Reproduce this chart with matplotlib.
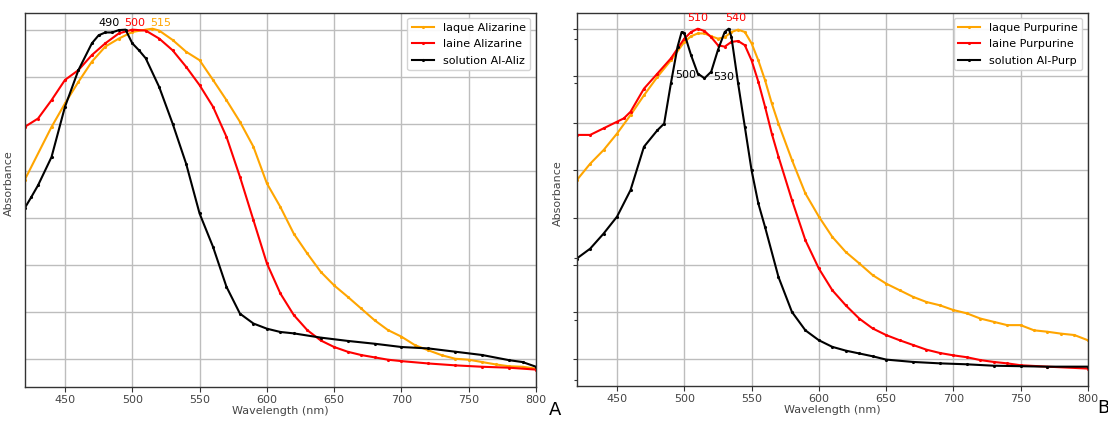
import matplotlib
matplotlib.use("Agg")
import matplotlib.pyplot as plt

# ---------------- Panel A : Alizarine ----------------
wl_laque_aliz = [420, 440, 450, 460, 470, 480, 490, 500, 510, 515, 520, 530, 540, 550, 560, 570,
                 580, 590, 600, 610, 620, 630, 640, 650, 660, 670, 680, 690, 700, 710, 720, 730,
                 740, 750, 760, 770, 780, 790, 800]
abs_laque_aliz = [3.81, 4.94, 5.44, 5.90, 6.33, 6.65, 6.82, 6.96, 7.01, 7.03, 6.99, 6.79, 6.54, 6.36,
                  5.94, 5.51, 5.05, 4.52, 3.74, 3.24, 2.67, 2.25, 1.86, 1.57, 1.33, 1.08, 0.83, 0.62,
                  0.48, 0.30, 0.19, 0.085, 0.01, -0.01, -0.06, -0.11, -0.15, -0.16, -0.20]

wl_laine_aliz = [420, 430, 440, 450, 460, 470, 480, 490, 500, 510, 520, 530, 540, 550, 560, 570,
                 580, 590, 600, 610, 620, 630, 640, 650, 660, 670, 680, 690, 700, 720, 740, 760,
                 780, 800]
abs_laine_aliz = [4.94, 5.12, 5.51, 5.94, 6.15, 6.47, 6.72, 6.93, 7.01, 6.99, 6.82, 6.57, 6.22, 5.83,
                  5.37, 4.73, 3.88, 2.96, 2.04, 1.40, 0.94, 0.62, 0.40, 0.26, 0.16, 0.09, 0.04, -0.01,
                  -0.04, -0.09, -0.13, -0.16, -0.18, -0.22]

wl_sol_aliz = [420, 425, 430, 440, 450, 460, 470, 475, 480, 485, 490, 495, 500, 505, 510, 520, 530,
               540, 550, 560, 570, 580, 590, 600, 610, 620, 640, 660, 680, 700, 720, 740, 760,
               780, 790, 800]
abs_sol_aliz = [3.21, 3.45, 3.70, 4.30, 5.37, 6.15, 6.72, 6.89, 6.95, 6.95, 7.00, 7.01, 6.72, 6.57,
                6.40, 5.79, 5.01, 4.16, 3.10, 2.39, 1.54, 0.97, 0.76, 0.65, 0.58, 0.55, 0.46, 0.39,
                0.33, 0.26, 0.23, 0.16, 0.09, -0.02, -0.06, -0.16]

labels_A = ["laque Alizarine", "laine Alizarine", "solution Al-Aliz"]
peaks_A = [("490", 482.5, 7.16, "black"), ("500", 502.0, 7.16, "red"), ("515", 521.0, 7.16, "orange")]

# ---------------- Panel B : Purpurine ----------------
wl_laque_purp = [420, 430, 440, 450, 460, 470, 480, 490, 500, 505, 510, 515, 520, 525, 530, 535,
                 540, 545, 550, 555, 560, 565, 570, 580, 590, 600, 610, 620, 630, 640, 650, 660,
                 670, 680, 690, 700, 710, 720, 730, 740, 750, 760, 770, 780, 790, 800]
abs_laque_purp = [3.79, 4.14, 4.43, 4.78, 5.17, 5.59, 5.98, 6.33, 6.72, 6.84, 6.90, 6.90, 6.84,
                  6.79, 6.82, 6.93, 6.98, 6.93, 6.69, 6.33, 5.91, 5.42, 4.99, 4.22, 3.51, 3.02,
                  2.59, 2.27, 2.03, 1.78, 1.60, 1.46, 1.32, 1.21, 1.14, 1.04, 0.97, 0.86, 0.79,
                  0.72, 0.72, 0.61, 0.58, 0.54, 0.51, 0.40]

wl_laine_purp = [420, 430, 440, 450, 455, 460, 470, 480, 490, 500, 505, 510, 515, 520, 525, 530,
                 535, 540, 545, 550, 555, 560, 565, 570, 580, 590, 600, 610, 620, 630, 640, 650,
                 660, 670, 680, 690, 700, 710, 720, 730, 740, 750, 770, 800]
abs_laine_purp = [4.75, 4.75, 4.89, 5.03, 5.10, 5.24, 5.73, 6.05, 6.37, 6.79, 6.93, 7.00, 6.95,
                  6.82, 6.65, 6.62, 6.72, 6.74, 6.65, 6.33, 5.88, 5.35, 4.78, 4.29, 3.37, 2.52,
                  1.92, 1.46, 1.14, 0.86, 0.65, 0.51, 0.40, 0.30, 0.20, 0.13, 0.08, 0.04, -0.02,
                  -0.06, -0.09, -0.13, -0.16, -0.20]

wl_sol_purp = [420, 430, 440, 450, 460, 470, 480, 485, 490, 495, 498, 500, 505, 510, 515, 520, 525,
               530, 533, 535, 540, 545, 550, 555, 560, 570, 580, 590, 600, 610, 620, 630, 640,
               650, 670, 690, 710, 730, 750, 770, 800]
abs_sol_purp = [2.13, 2.34, 2.66, 3.02, 3.58, 4.50, 4.85, 4.99, 5.84, 6.62, 6.93, 6.90, 6.44, 6.05,
                5.95, 6.09, 6.55, 6.93, 7.00, 6.83, 5.84, 4.92, 4.00, 3.30, 2.80, 1.74, 1.00, 0.61,
                0.40, 0.26, 0.18, 0.12, 0.06, -0.01, -0.06, -0.09, -0.11, -0.14, -0.15, -0.16,
                -0.16]

labels_B = ["laque Purpurine", "laine Purpurine", "solution Al-Purp"]
peaks_B = [("510", 509.8, 7.22, "red"), ("540", 538.3, 7.22, "red"),
           ("500", 501.2, 6.02, "black"), ("530", 529.2, 5.98, "black")]

x_ticks = [450, 500, 550, 600, 650, 700, 750, 800]
grid_levels = [0, 1, 2, 3, 4, 5, 6, 7]

colors = ["#FFA500", "#FF0000", "#000000"]
FS = 8
TXT = "#444444"

plt.rcParams["font.family"] = ["DejaVu Sans"]

fig = plt.figure(figsize=(11.08, 4.21), dpi=100)
axA = fig.add_axes([0.0222, 0.0808, 0.4616, 0.8890])
axB = fig.add_axes([0.5205, 0.0831, 0.4613, 0.8868])


def style(ax, ylim, ylab_pos, minor=None, ytick_len=0):
    ax.set_xlim(420, 800)
    ax.set_ylim(*ylim)
    ax.set_xticks(x_ticks)
    ax.set_yticks(grid_levels)
    ax.set_yticklabels([])
    if minor is not None:
        ax.set_yticks(minor, minor=True)
        ax.tick_params(axis="y", which="minor", length=2.5, width=0.8, color="#333333")
    ax.tick_params(axis="y", which="major", length=ytick_len, width=0.8, color="#333333")
    ax.tick_params(axis="x", length=3.5, width=0.8, color="#333333", labelsize=FS,
                   labelcolor=TXT, pad=2)
    ax.grid(True, color="#bdbdbd", linewidth=1.0)
    ax.set_axisbelow(True)
    for s in ax.spines.values():
        s.set_color("#333333")
        s.set_linewidth(1.0)
    ax.set_xlabel("Wavelength (nm)", fontsize=FS, color=TXT, labelpad=1)
    ax.set_ylabel("Absorbance", fontsize=FS, color=TXT)
    ax.yaxis.set_label_coords(*ylab_pos)


def draw(ax, series, labels):
    for (x, y), lab, c in zip(series, labels, colors):
        ax.plot(x, y, color=c, linewidth=1.5, marker=".", markersize=2.5, label=lab)
    ax.legend(loc="upper right", fontsize=FS, labelspacing=0.6, framealpha=0.9,
              edgecolor="#d0d0d0", fancybox=True)


draw(axA, [(wl_laque_aliz, abs_laque_aliz), (wl_laine_aliz, abs_laine_aliz),
           (wl_sol_aliz, abs_sol_aliz)], labels_A)
style(axA, (-0.59, 7.37), (-0.021, 0.545))
for t, x, y, c in peaks_A:
    axA.text(x, y, t, color=c, fontsize=FS, ha="center", va="center")

draw(axB, [(wl_laque_purp, abs_laque_purp), (wl_laine_purp, abs_laine_purp),
           (wl_sol_purp, abs_sol_purp)], labels_B)
style(axB, (-0.57, 7.34), (-0.027, 0.517),
      minor=[6.78, 5.85, 2.15, 0.83, -0.45], ytick_len=3)
for t, x, y, c in peaks_B:
    axB.text(x, y, t, color=c, fontsize=FS, ha="center", va="center")

fig.text(549 / 1108, 0.014, "A", fontsize=13, color="black", ha="left", va="baseline")
fig.text(1097 / 1108, 0.019, "B", fontsize=13, color="black", ha="left", va="baseline")

fig.savefig("out.png", dpi=100)
